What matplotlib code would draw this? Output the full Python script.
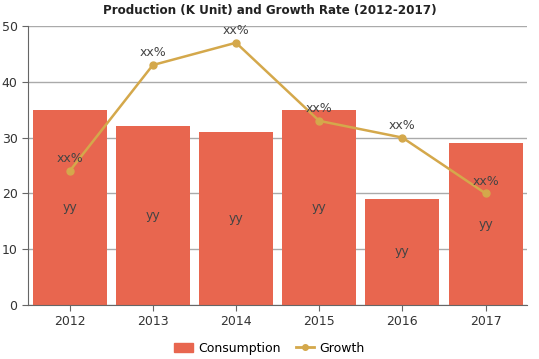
import matplotlib
matplotlib.use("Agg")
import matplotlib.pyplot as plt
from matplotlib.lines import Line2D
from matplotlib.patches import Patch

years = ["2012", "2013", "2014", "2015", "2016", "2017"]
consumption = [35, 32, 31, 35, 19, 29]
growth = [24, 43, 47, 33, 30, 20]
bar_labels = ["yy"] * 6
growth_labels = ["xx%"] * 6

bar_color = "#E8664F"
line_color = "#D4A84B"

fig = plt.figure(figsize=(5.39, 3.59), dpi=100)
ax = fig.add_axes([0.052, 0.1504, 0.926, 0.7772])

x = list(range(len(years)))
ax.bar(x, consumption, width=0.89, color=bar_color, zorder=2)
ax.plot(x, growth, color=line_color, marker="o", markersize=5, linewidth=1.8, zorder=3)

for xi, v, lab in zip(x, consumption, bar_labels):
    ax.text(xi, v / 2, lab, ha="center", va="center", fontsize=9, color="#444444", zorder=4)
for xi, v, lab in zip(x, growth, growth_labels):
    ax.text(xi, v + 1.0, lab, ha="center", va="bottom", fontsize=9, color="#444444", zorder=4)

ax.set_xlim(-0.5, len(years) - 0.5)
ax.set_ylim(0, 50)
ax.set_yticks(range(0, 51, 10))
ax.set_xticks(x)
ax.set_xticklabels(years)
ax.yaxis.grid(True, color="#aaaaaa", linewidth=1, zorder=0)
ax.set_axisbelow(True)
for s in ["top", "right"]:
    ax.spines[s].set_visible(False)
ax.spines["left"].set_color("#666666")
ax.spines["bottom"].set_color("#666666")
ax.tick_params(axis="both", labelsize=9, colors="#333333", length=4, color="#666666")

fig.text(0.5, 0.972, "Production (K Unit) and Growth Rate (2012-2017)", ha="center", va="center",
         fontsize=9.5, fontweight="heavy", fontstretch="condensed", color="#222222")

handles = [Patch(color=bar_color, label="Consumption"),
           Line2D([0], [0], color=line_color, marker="o", markersize=4, linewidth=2, label="Growth")]
fig.legend(handles=handles, loc="center", bbox_to_anchor=(0.5, 0.03), ncol=2, frameon=False,
           fontsize=9, handlelength=1.5, columnspacing=1.2, handletextpad=0.4)

fig.savefig("out.png", dpi=100)
